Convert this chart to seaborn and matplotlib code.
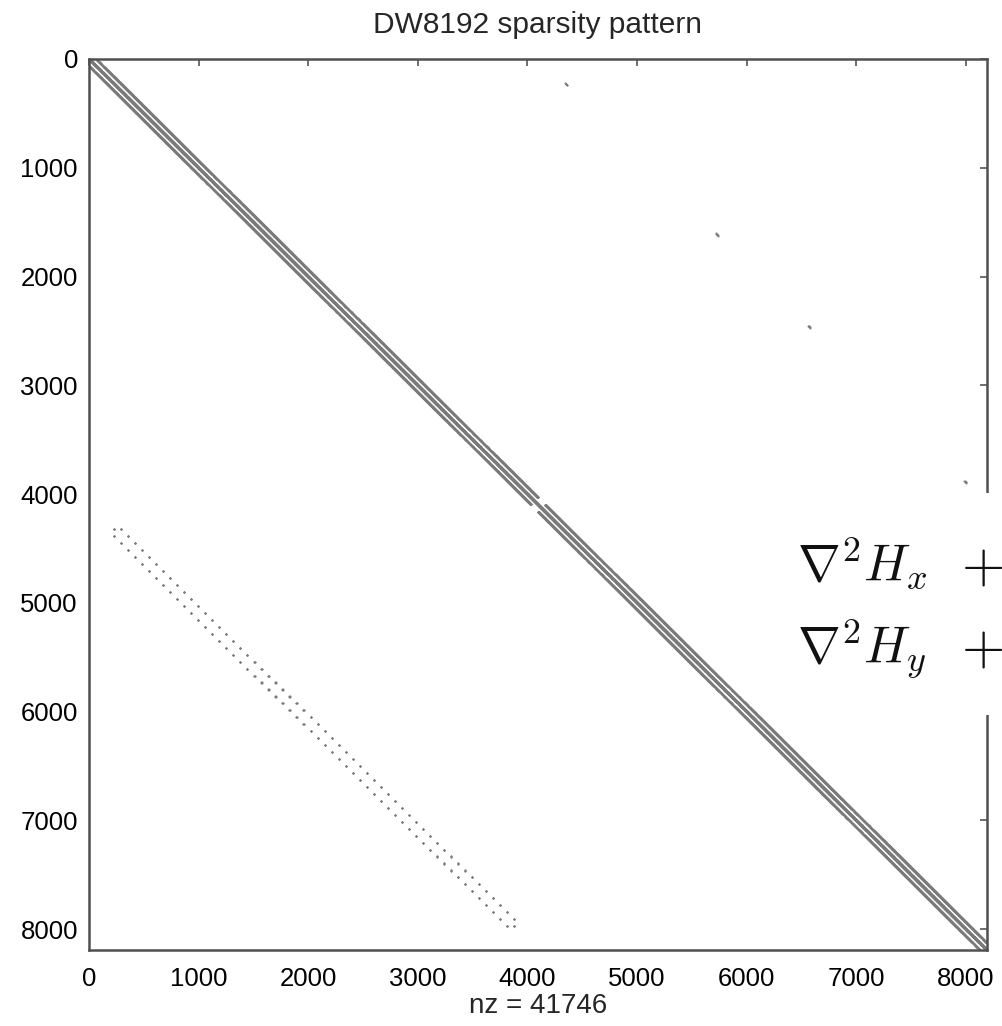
import numpy as np
import pandas as pd
import matplotlib
matplotlib.use("Agg")
import matplotlib.pyplot as plt
import seaborn as sns
from matplotlib.patches import Rectangle

# ---- structure parameters of the DW8192 matrix ----
n_total = 8192
block_size = 4096                 # two diagonal blocks (Hx, Hy)
grid_n = 64                        # 64 x 64 grid per block
band_offsets = [0, -1, 1, -64, 64]  # diagonals of each diagonal block
# lower-left coupling block: one dot cluster per grid row
coupling_grid_rows = [3, 60]       # first / last grid row with coupling
coupling_grid_offsets = [-1, 1]    # coupled neighbour grid rows
coupling_points = [36, 37]         # points inside a grid row
# isolated entries in the upper-right block (row, col of each short dash)
upper_rows = [221, 1602, 2450, 3877]
upper_cols = [4343, 5720, 6560, 7984]
upper_dash = [0, 4, 8, 12, 16, 20]

title_text = "DW8192 sparsity pattern"
xlabel_text = "nz = 41746"
tick_values = [0, 1000, 2000, 3000, 4000, 5000, 6000, 7000, 8000]
eq_lines = [r"$\nabla^2 H_x$", r"$\nabla^2 H_y$"]

# ---- build the list of nonzeros ----
rows, cols = [], []
for b in range(2):
    base = b * block_size
    idx = np.arange(block_size)
    for off in band_offsets:
        j = idx + off
        ok = (j >= 0) & (j < block_size)
        if abs(off) == 1:
            ok &= (idx // grid_n) == (np.clip(j, 0, block_size - 1) // grid_n)
        rows.append(base + idx[ok])
        cols.append(base + j[ok])

g0, g1 = coupling_grid_rows
for g in range(g0, g1 + 1):
    for d in coupling_grid_offsets:
        gc = min(max(g + d, g0), g1)
        for pi in coupling_points:
            for pj in coupling_points:
                rows.append(np.array([block_size + g * grid_n + pi]))
                cols.append(np.array([gc * grid_n + pj]))

for r, c in zip(upper_rows, upper_cols):
    for k in upper_dash:
        rows.append(np.array([r + k]))
        cols.append(np.array([c + k]))

df = pd.DataFrame({"row": np.concatenate(rows) + 1, "col": np.concatenate(cols) + 1})

# ---- plot ----
sns.set_style("white")
plt.rcParams["font.family"] = ["Liberation Sans", "DejaVu Sans"]
plt.rcParams["mathtext.fontset"] = "cm"

W, H = 1003, 1026
fig = plt.figure(figsize=(W / 100, H / 100), dpi=100)
ax = fig.add_axes([89 / W, 1 - 950 / H, (987 - 89) / W, (950 - 59) / H])

sns.scatterplot(data=df, x="col", y="row", s=2.0, color="#7a7a7a",
                linewidth=0, marker="o", ax=ax, legend=False)

ax.set_xlim(0, n_total + 1)
ax.set_ylim(n_total + 1, 0)
ax.set_xticks(tick_values)
ax.set_yticks(tick_values)
ax.set_xticklabels([str(t) for t in tick_values])
ax.set_yticklabels([str(t) for t in tick_values])
ax.tick_params(direction="in", length=5, width=1.2, color="#555555",
               top=True, right=True, labelsize=18.5, labelcolor="black")
ax.tick_params(axis="x", pad=12)
ax.tick_params(axis="y", pad=8)
for s in ax.spines.values():
    s.set_color("#505050")
    s.set_linewidth(1.8)

ax.set_title(title_text, fontsize=21.5, pad=19)
ax.set_xlabel(xlabel_text, fontsize=20, labelpad=2)
ax.set_ylabel("")

# white overlay box with equations
fig.patches.append(Rectangle((768 / W, 1 - 715 / H), (W - 768) / W, (715 - 493) / H,
                             transform=fig.transFigure, facecolor="white",
                             edgecolor="none", zorder=10))
for txt, base_y in zip(eq_lines, [581, 663]):
    fig.text(797 / W, 1 - base_y / H, txt, fontsize=37, zorder=11,
             ha="left", va="baseline", color="#111111")
    fig.text(961 / W, 1 - base_y / H, r"$+$", fontsize=40, zorder=11,
             ha="left", va="baseline", color="#111111")

fig.savefig("out.png", dpi=100)
